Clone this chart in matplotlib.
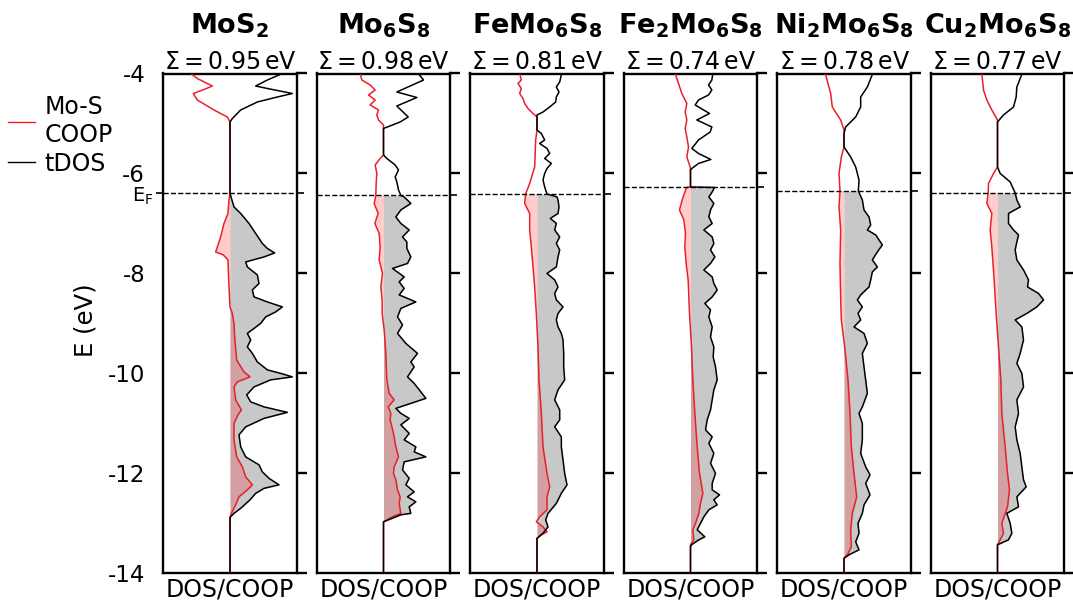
import numpy as np
import matplotlib
matplotlib.use("Agg")
import matplotlib.pyplot as plt
from matplotlib.lines import Line2D

plt.rcParams['font.family'] = ['DejaVu Sans']
plt.rcParams['mathtext.fontset'] = 'dejavusans'

# ---------------------------------------------------------------------------
# Compounds, band-centre sums and Fermi levels (eV)
# ---------------------------------------------------------------------------
TITLES = [r'MoS$_\mathbf{2}$',
          r'Mo$_\mathbf{6}$S$_\mathbf{8}$',
          r'FeMo$_\mathbf{6}$S$_\mathbf{8}$',
          r'Fe$_\mathbf{2}$Mo$_\mathbf{6}$S$_\mathbf{8}$',
          r'Ni$_\mathbf{2}$Mo$_\mathbf{6}$S$_\mathbf{8}$',
          r'Cu$_\mathbf{2}$Mo$_\mathbf{6}$S$_\mathbf{8}$']
SIGMA_EV = [0.95, 0.98, 0.81, 0.74, 0.78, 0.77]
E_FERMI = [-6.40, -6.44, -6.41, -6.28, -6.35, -6.39]

# (energy, value) pairs; values in units of the half panel width
MOS2_TDOS = [(-4.00, 0.785), (-4.13, 0.56), (-4.25, 0.385), (-4.30, 0.56), (-4.40, 0.935),
             (-4.47, 0.71), (-4.57, 0.41), (-4.73, 0.16), (-4.90, 0.035), (-4.97, 0.0),
             (-6.40, 0.0), (-6.67, 0.06), (-6.80, 0.16), (-7.00, 0.285), (-7.20, 0.385),
             (-7.40, 0.485), (-7.50, 0.56), (-7.59, 0.67), (-7.67, 0.51), (-7.77, 0.235),
             (-7.87, 0.26), (-8.03, 0.41), (-8.20, 0.435), (-8.33, 0.335), (-8.47, 0.36),
             (-8.57, 0.56), (-8.67, 0.785), (-8.77, 0.685), (-8.87, 0.535), (-9.00, 0.46),
             (-9.20, 0.26), (-9.33, 0.31), (-9.47, 0.26), (-9.60, 0.335), (-9.77, 0.41),
             (-9.93, 0.56), (-10.00, 0.76), (-10.07, 0.935), (-10.13, 0.61), (-10.27, 0.36),
             (-10.43, 0.25), (-10.57, 0.31), (-10.67, 0.51), (-10.78, 0.86), (-10.90, 0.51),
             (-11.07, 0.235), (-11.23, 0.135), (-11.47, 0.16), (-11.67, 0.235), (-11.83, 0.435),
             (-11.97, 0.485), (-12.10, 0.585), (-12.23, 0.735), (-12.30, 0.51), (-12.40, 0.385),
             (-12.53, 0.30), (-12.70, 0.16), (-12.80, 0.06), (-12.88, 0.0), (-14.00, 0.0)]
MOS2_COOP = [(-4.00, -0.59), (-4.10, -0.49), (-4.20, -0.34), (-4.25, -0.265), (-4.32, -0.39),
             (-4.40, -0.55), (-4.53, -0.49), (-4.73, -0.24), (-4.87, -0.04), (-4.97, 0.0),
             (-6.40, 0.0), (-6.53, -0.015), (-6.80, -0.03), (-7.00, -0.09), (-7.27, -0.14),
             (-7.47, -0.19), (-7.57, -0.215), (-7.63, -0.10), (-7.73, -0.03), (-8.13, -0.02),
             (-8.67, 0.0), (-8.80, 0.035), (-9.00, 0.06), (-9.27, 0.07), (-9.73, 0.10),
             (-9.97, 0.21), (-10.07, 0.30), (-10.17, 0.11), (-10.27, 0.06), (-10.53, 0.085),
             (-10.73, 0.17), (-10.83, 0.12), (-11.00, 0.06), (-11.33, 0.06), (-11.67, 0.10),
             (-11.87, 0.185), (-12.07, 0.235), (-12.23, 0.335), (-12.33, 0.26), (-12.47, 0.135),
             (-12.63, 0.085), (-12.80, 0.02), (-12.88, 0.0), (-14.00, 0.0)]

MO6S8_TDOS = [(-4.00, 0.52), (-4.13, 0.60), (-4.37, 0.20), (-4.48, 0.50), (-4.65, 0.20),
              (-4.87, 0.37), (-4.97, 0.25), (-5.10, 0.0), (-5.63, 0.0), (-5.70, 0.05),
              (-5.83, 0.175), (-5.93, 0.225), (-6.07, 0.175), (-6.17, 0.20), (-6.33, 0.225),
              (-6.44, 0.26), (-6.47, 0.31), (-6.60, 0.41), (-6.73, 0.26), (-6.87, 0.185),
              (-7.00, 0.26), (-7.13, 0.385), (-7.27, 0.285), (-7.37, 0.35), (-7.50, 0.35),
              (-7.67, 0.41), (-7.80, 0.36), (-7.90, 0.135), (-8.07, 0.31), (-8.17, 0.235),
              (-8.30, 0.31), (-8.43, 0.235), (-8.57, 0.485), (-8.70, 0.26), (-8.87, 0.21),
              (-9.03, 0.285), (-9.20, 0.21), (-9.40, 0.335), (-9.60, 0.51), (-9.77, 0.41),
              (-9.87, 0.46), (-10.07, 0.36), (-10.20, 0.46), (-10.37, 0.56), (-10.50, 0.635),
              (-10.60, 0.41), (-10.70, 0.185), (-10.80, 0.26), (-10.90, 0.385), (-11.03, 0.26),
              (-11.20, 0.385), (-11.33, 0.31), (-11.47, 0.485), (-11.57, 0.46), (-11.67, 0.635),
              (-11.77, 0.31), (-11.93, 0.285), (-12.10, 0.385), (-12.23, 0.335), (-12.37, 0.46),
              (-12.47, 0.36), (-12.57, 0.485), (-12.67, 0.385), (-12.80, 0.41), (-12.83, 0.26),
              (-12.97, 0.0), (-14.00, 0.0)]
MO6S8_COOP = [(-4.00, -0.35), (-4.13, -0.325), (-4.23, -0.20), (-4.33, -0.125), (-4.43, -0.225),
              (-4.53, -0.125), (-4.63, -0.20), (-4.73, -0.075), (-4.83, -0.10), (-4.93, -0.075),
              (-5.03, 0.0), (-5.63, 0.0), (-5.70, -0.05), (-5.83, -0.125), (-6.00, -0.10),
              (-6.20, -0.11), (-6.44, -0.115), (-6.60, -0.14), (-6.80, -0.08), (-7.00, -0.13),
              (-7.20, -0.065), (-7.47, -0.05), (-7.73, -0.065), (-8.00, -0.015), (-8.27, -0.04),
              (-8.53, -0.02), (-8.80, -0.02), (-9.13, 0.01), (-9.60, 0.035), (-10.13, 0.05),
              (-10.40, 0.085), (-10.53, 0.16), (-10.67, 0.07), (-10.80, 0.11), (-10.93, 0.10),
              (-11.20, 0.15), (-11.47, 0.185), (-11.67, 0.225), (-11.87, 0.16), (-12.00, 0.15),
              (-12.13, 0.185), (-12.33, 0.21), (-12.47, 0.25), (-12.60, 0.235), (-12.80, 0.26),
              (-12.87, 0.135), (-12.97, 0.0), (-14.00, 0.0)]

FEMO6S8_TDOS = [(-4.00, 0.37), (-4.17, 0.34), (-4.27, 0.29), (-4.37, 0.33), (-4.47, 0.29),
                (-4.57, 0.28), (-4.67, 0.19), (-4.77, 0.09), (-4.83, 0.0), (-5.13, 0.0),
                (-5.20, 0.065), (-5.33, 0.115), (-5.40, 0.04), (-5.50, 0.15), (-5.60, 0.19),
                (-5.70, 0.115), (-5.80, 0.215), (-5.90, 0.15), (-6.00, 0.115), (-6.13, 0.09),
                (-6.27, 0.115), (-6.41, 0.15), (-6.47, 0.30), (-6.53, 0.315), (-6.67, 0.33),
                (-6.80, 0.315), (-6.90, 0.20), (-7.00, 0.29), (-7.13, 0.265), (-7.27, 0.34),
                (-7.40, 0.29), (-7.53, 0.34), (-7.67, 0.315), (-7.87, 0.29), (-8.00, 0.15),
                (-8.13, 0.265), (-8.27, 0.315), (-8.40, 0.265), (-8.53, 0.29), (-8.67, 0.39),
                (-8.80, 0.315), (-8.93, 0.29), (-9.07, 0.315), (-9.20, 0.365), (-9.33, 0.39),
                (-9.60, 0.40), (-9.87, 0.40), (-10.13, 0.415), (-10.33, 0.315), (-10.53, 0.265),
                (-10.73, 0.34), (-10.93, 0.34), (-11.07, 0.265), (-11.27, 0.365), (-11.47, 0.365),
                (-11.73, 0.39), (-12.00, 0.415), (-12.23, 0.45), (-12.40, 0.365), (-12.60, 0.29),
                (-12.80, 0.165), (-12.93, 0.13), (-13.07, 0.165), (-13.20, 0.09), (-13.30, 0.0),
                (-14.00, 0.0)]
FEMO6S8_COOP = [(-4.00, -0.26), (-4.13, -0.235), (-4.20, -0.285), (-4.30, -0.235), (-4.40, -0.26),
                (-4.50, -0.21), (-4.60, -0.185), (-4.70, -0.135), (-4.80, -0.06), (-4.87, 0.0),
                (-5.13, 0.0), (-5.33, -0.02), (-5.87, -0.035), (-6.20, -0.11), (-6.41, -0.17),
                (-6.60, -0.185), (-6.80, -0.11), (-7.13, -0.11), (-7.47, -0.085), (-7.87, -0.06),
                (-8.27, -0.035), (-8.80, -0.01), (-9.47, 0.015), (-10.13, 0.03), (-10.80, 0.065),
                (-11.47, 0.09), (-12.00, 0.15), (-12.27, 0.19), (-12.47, 0.15), (-12.73, 0.15),
                (-12.87, 0.04), (-12.97, -0.01), (-13.07, 0.09), (-13.17, 0.15), (-13.23, 0.065),
                (-13.30, 0.0), (-14.00, 0.0)]

FE2MO6S8_TDOS = [(-4.00, 0.335), (-4.13, 0.32), (-4.23, 0.27), (-4.33, 0.32), (-4.43, 0.27),
                 (-4.53, 0.12), (-4.63, 0.07), (-4.80, 0.285), (-4.93, 0.095), (-5.07, 0.32),
                 (-5.17, 0.295), (-5.33, 0.12), (-5.50, 0.02), (-5.60, 0.12), (-5.72, 0.305),
                 (-5.80, 0.12), (-5.90, 0.02), (-5.93, 0.0), (-6.27, 0.0), (-6.28, 0.36),
                 (-6.37, 0.325), (-6.47, 0.275), (-6.60, 0.35), (-6.73, 0.30), (-6.87, 0.275),
                 (-7.00, 0.325), (-7.13, 0.20), (-7.27, 0.325), (-7.40, 0.35), (-7.53, 0.30),
                 (-7.67, 0.365), (-7.80, 0.30), (-7.93, 0.20), (-8.07, 0.325), (-8.20, 0.35),
                 (-8.33, 0.40), (-8.47, 0.325), (-8.60, 0.215), (-8.73, 0.30), (-8.87, 0.275),
                 (-9.07, 0.325), (-9.27, 0.30), (-9.47, 0.35), (-9.67, 0.34), (-9.87, 0.375),
                 (-10.13, 0.40), (-10.33, 0.35), (-10.53, 0.325), (-10.73, 0.30), (-10.93, 0.25),
                 (-11.13, 0.225), (-11.27, 0.325), (-11.40, 0.275), (-11.60, 0.35), (-11.80, 0.30),
                 (-12.00, 0.375), (-12.20, 0.325), (-12.33, 0.325), (-12.43, 0.435), (-12.53, 0.35),
                 (-12.63, 0.40), (-12.73, 0.275), (-12.87, 0.20), (-13.00, 0.15), (-13.13, 0.10),
                 (-13.27, 0.215), (-13.33, 0.125), (-13.43, 0.015), (-13.47, 0.0), (-14.00, 0.0)]
FE2MO6S8_COOP = [(-4.00, -0.23), (-4.20, -0.18), (-4.40, -0.13), (-4.60, -0.055), (-4.77, -0.08),
                 (-4.93, -0.055), (-5.10, -0.08), (-5.27, -0.055), (-5.47, -0.03), (-5.67, -0.055),
                 (-5.87, -0.005), (-5.93, 0.0), (-6.27, 0.0), (-6.28, -0.06), (-6.53, -0.125),
                 (-6.73, -0.165), (-6.93, -0.10), (-7.20, -0.075), (-7.47, -0.085), (-7.80, -0.065),
                 (-8.13, -0.035), (-8.80, -0.015), (-9.47, 0.015), (-10.13, 0.035), (-10.80, 0.065),
                 (-11.47, 0.10), (-12.00, 0.135), (-12.40, 0.185), (-12.60, 0.15), (-12.80, 0.125),
                 (-13.00, 0.075), (-13.13, 0.035), (-13.33, 0.05), (-13.43, 0.0), (-14.00, 0.0)]

NI2MO6S8_TDOS = [(-4.00, 0.43), (-4.27, 0.35), (-4.47, 0.25), (-4.67, 0.25), (-4.87, 0.175),
                 (-5.07, 0.025), (-5.20, 0.0), (-5.47, 0.0), (-5.67, 0.10), (-5.87, 0.175),
                 (-6.13, 0.225), (-6.35, 0.215), (-6.53, 0.275), (-6.73, 0.30), (-6.87, 0.375),
                 (-7.03, 0.40), (-7.13, 0.35), (-7.23, 0.475), (-7.43, 0.575), (-7.57, 0.50),
                 (-7.73, 0.425), (-7.87, 0.50), (-7.97, 0.425), (-8.13, 0.40), (-8.27, 0.375),
                 (-8.43, 0.25), (-8.53, 0.20), (-8.67, 0.275), (-8.80, 0.21), (-8.93, 0.25),
                 (-9.07, 0.15), (-9.20, 0.30), (-9.40, 0.35), (-9.60, 0.275), (-9.87, 0.30),
                 (-10.13, 0.325), (-10.40, 0.35), (-10.67, 0.275), (-10.80, 0.225), (-11.00, 0.275),
                 (-11.33, 0.275), (-11.60, 0.25), (-11.87, 0.325), (-12.03, 0.39), (-12.20, 0.325),
                 (-12.43, 0.39), (-12.63, 0.30), (-12.80, 0.275), (-13.00, 0.21), (-13.20, 0.225),
                 (-13.37, 0.175), (-13.53, 0.225), (-13.63, 0.075), (-13.70, 0.0), (-14.00, 0.0)]
NI2MO6S8_COOP = [(-4.00, -0.28), (-4.40, -0.20), (-4.67, -0.175), (-4.93, -0.05), (-5.13, 0.0),
                 (-5.47, 0.0), (-5.67, -0.04), (-6.00, -0.075), (-6.35, -0.06), (-6.67, -0.075),
                 (-7.13, -0.05), (-7.80, -0.06), (-8.47, -0.05), (-8.93, -0.04), (-9.47, 0.01),
                 (-10.13, 0.06), (-10.80, 0.09), (-11.47, 0.11), (-12.00, 0.15), (-12.47, 0.19),
                 (-12.80, 0.125), (-13.13, 0.10), (-13.47, 0.11), (-13.63, 0.05), (-13.70, 0.0),
                 (-14.00, 0.0)]

CU2MO6S8_TDOS = [(-4.00, 0.37), (-4.27, 0.29), (-4.47, 0.28), (-4.67, 0.24), (-4.83, 0.09),
                 (-4.97, 0.0), (-5.87, 0.0), (-6.00, 0.04), (-6.17, 0.19), (-6.39, 0.265),
                 (-6.53, 0.29), (-6.67, 0.34), (-6.80, 0.165), (-7.00, 0.165), (-7.13, 0.24),
                 (-7.23, 0.315), (-7.37, 0.29), (-7.53, 0.265), (-7.73, 0.29), (-7.93, 0.39),
                 (-8.13, 0.465), (-8.27, 0.45), (-8.40, 0.615), (-8.53, 0.69), (-8.67, 0.59),
                 (-8.80, 0.44), (-8.93, 0.265), (-9.07, 0.365), (-9.33, 0.39), (-9.60, 0.34),
                 (-9.80, 0.29), (-10.00, 0.365), (-10.27, 0.39), (-10.53, 0.29), (-10.80, 0.315),
                 (-11.07, 0.265), (-11.33, 0.29), (-11.60, 0.34), (-11.87, 0.365), (-12.13, 0.39),
                 (-12.27, 0.43), (-12.47, 0.29), (-12.67, 0.315), (-12.80, 0.14), (-13.00, 0.19),
                 (-13.20, 0.215), (-13.33, 0.165), (-13.43, 0.0), (-14.00, 0.0)]
CU2MO6S8_COOP = [(-4.00, -0.235), (-4.33, -0.21), (-4.53, -0.16), (-4.73, -0.085), (-4.93, 0.0),
                 (-5.87, 0.0), (-6.00, -0.06), (-6.20, -0.135), (-6.39, -0.14), (-6.60, -0.16),
                 (-6.80, -0.085), (-7.13, -0.11), (-7.47, -0.085), (-8.13, -0.05), (-8.80, -0.02),
                 (-9.47, 0.015), (-10.13, 0.05), (-10.80, 0.065), (-11.47, 0.115), (-12.00, 0.15),
                 (-12.33, 0.18), (-12.67, 0.15), (-13.00, 0.065), (-13.20, 0.09), (-13.33, 0.04),
                 (-13.43, 0.0), (-14.00, 0.0)]

TDOS_SETS = [MOS2_TDOS, MO6S8_TDOS, FEMO6S8_TDOS, FE2MO6S8_TDOS, NI2MO6S8_TDOS, CU2MO6S8_TDOS]
COOP_SETS = [MOS2_COOP, MO6S8_COOP, FEMO6S8_COOP, FE2MO6S8_COOP, NI2MO6S8_COOP, CU2MO6S8_COOP]

Y_TICKS = [-4, -6, -8, -10, -12, -14]

# ---------------------------------------------------------------------------
W, H = 1073, 602
fig = plt.figure(figsize=(W / 100, H / 100), dpi=100)

ax_left0, ax_step, ax_w = 163.3, 153.5, 133.4
ax_top, ax_bot = 73.5, 573.3

FILL_GRAY = '#c8c8c8'
RED = '#e8202a'

for i in range(6):
    ax = fig.add_axes([(ax_left0 + i * ax_step) / W, (H - ax_bot) / H,
                       ax_w / W, (ax_bot - ax_top) / H])
    ef = E_FERMI[i]
    e_d, v_d = np.array(TDOS_SETS[i]).T
    e_c, v_c = np.array(COOP_SETS[i]).T

    ax.fill_betweenx(e_d, 0, v_d, where=e_d <= ef + 1e-9, color=FILL_GRAY, lw=0, zorder=1)
    ax.fill_betweenx(e_c, 0, v_c, where=e_c <= ef + 1e-9, color='red', alpha=0.2, lw=0, zorder=2)
    ax.plot(v_c, e_c, color=RED, lw=1.1, zorder=3)
    ax.plot(v_d, e_d, color='black', lw=1.1, zorder=4)
    ax.axhline(ef, color='black', ls='--', lw=1.0, zorder=5)

    ax.set_xlim(-1, 1)
    ax.set_ylim(-14, -4)
    ax.set_xticks([])
    ax.set_yticks(Y_TICKS)
    ax.set_yticks([ef], minor=True)
    ax.tick_params(axis='y', which='major', left=False, right=True, direction='out',
                   length=7, width=1.7, labelsize=16.5, pad=6,
                   labelleft=(i == 0), labelright=False)
    ax.tick_params(axis='y', which='minor', left=(i == 0), right=True, direction='out',
                   length=5, width=1.2, labelsize=14, pad=2,
                   labelleft=(i == 0), labelright=False)
    if i == 0:
        ax.set_yticklabels([str(t) for t in Y_TICKS])
        ax.set_yticklabels([r'E$_\mathrm{F}$'], minor=True)
    for sp in ax.spines.values():
        sp.set_linewidth(1.7)

    ax.set_xlabel('DOS/COOP', fontsize=17, labelpad=3)
    ax.text(0.5, 1.010, r'$\Sigma = %.2f\,\mathrm{eV}$' % SIGMA_EV[i],
            transform=ax.transAxes, ha='center', va='baseline', fontsize=17)
    ax.text(0.5, 1.080, TITLES[i], transform=ax.transAxes, ha='center',
            va='baseline', fontsize=19.5, fontweight='bold')

fig.text(85 / W, 1 - 320 / H, 'E (eV)', rotation=90, fontsize=17.5,
         ha='center', va='center')

handles = [Line2D([], [], color=RED, lw=1.0, label='Mo-S\nCOOP'),
           Line2D([], [], color='black', lw=1.0, label='tDOS')]
fig.legend(handles=handles, loc='upper left', bbox_to_anchor=(8 / W, 1 - 95 / H),
           frameon=False, fontsize=17, handlelength=1.15, handletextpad=0.4,
           borderaxespad=0, borderpad=0, labelspacing=0.2)

fig.savefig('out.png', dpi=100)
